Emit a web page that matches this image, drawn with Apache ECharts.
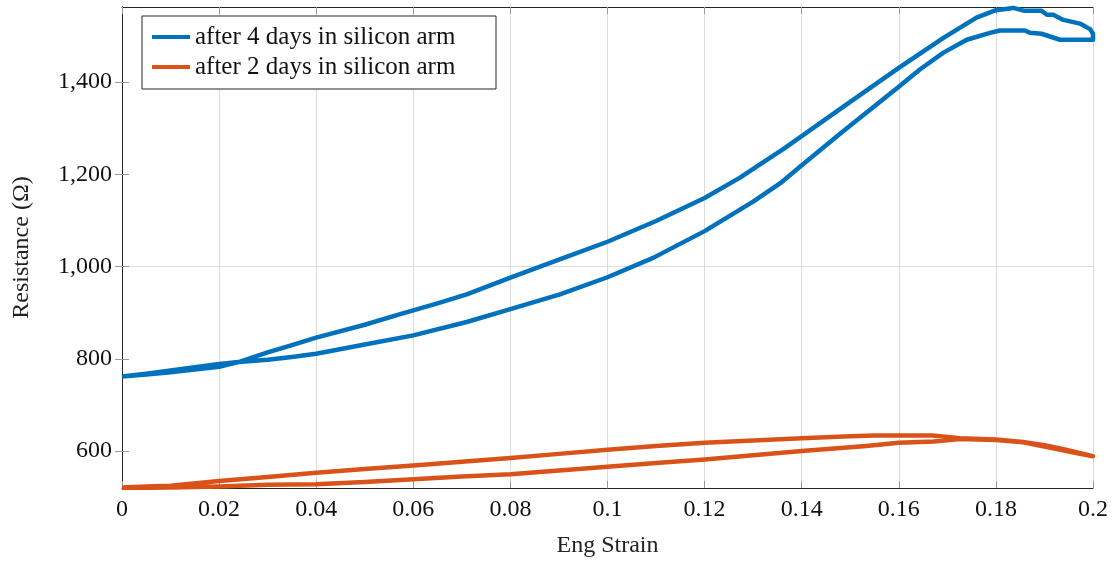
<!DOCTYPE html>
<html>
<head>
<meta charset="utf-8">
<script src="https://cdn.jsdelivr.net/npm/echarts@6/dist/echarts.min.js"></script>
<style>
  html, body { margin: 0; padding: 0; background: #fff; }
  #chart { width: 1119px; height: 563px; }
</style>
</head>
<body>
<div id="chart"></div>
<script>
// after 4 days: loading branch then unloading branch (one closed loop)
const blueStrain = [
  0, 0.005, 0.01, 0.015, 0.02, 0.024, 0.03, 0.035, 0.04, 0.05, 0.0573, 0.06, 0.0655, 0.071, 0.08, 0.09,
  0.1, 0.11, 0.12, 0.1273, 0.1314, 0.1362, 0.14, 0.1486, 0.16, 0.1692, 0.176, 0.18, 0.1836, 0.1857,
  0.1894, 0.1905, 0.1918, 0.1939, 0.1973, 0.1994, 0.2,
  0.2, 0.1932, 0.1894, 0.187, 0.186, 0.1808, 0.1788, 0.174, 0.1692, 0.1644, 0.16, 0.1486, 0.1397,
  0.1356, 0.13, 0.12, 0.1094, 0.1, 0.0902, 0.08, 0.071, 0.06, 0.05, 0.04, 0.035, 0.03, 0.024, 0.02,
  0.015, 0.01, 0.005, 0
]
const blueRes = [
  762, 766, 771, 777, 783, 793, 814, 830, 846, 874, 897, 905, 922, 940, 976, 1015,
  1054, 1099, 1149, 1193, 1222, 1255, 1283, 1347, 1431, 1496, 1540, 1556, 1561, 1555,
  1555, 1546, 1546, 1535, 1527, 1515, 1505,
  1492, 1492, 1505, 1507, 1512, 1512, 1507, 1492, 1464, 1428, 1390, 1294, 1217,
  1181, 1141, 1077, 1019, 977, 940, 908, 880, 851, 831, 811, 804, 798, 793, 789,
  782, 775, 768, 762
]

// after 2 days
const orangeStrain = [
  0, 0.005, 0.01, 0.02, 0.03, 0.04, 0.05, 0.06, 0.07, 0.08, 0.09, 0.1, 0.11, 0.12, 0.13, 0.14,
  0.15, 0.155, 0.16, 0.167, 0.1726, 0.18, 0.1856, 0.19, 0.1935, 0.2,
  0.2, 0.196, 0.19, 0.1856, 0.18, 0.1726, 0.1672, 0.16, 0.1533, 0.14, 0.13, 0.12, 0.11, 0.1,
  0.09, 0.08, 0.07, 0.06, 0.05, 0.04, 0.03, 0.02, 0.01, 0
]
const orangeRes = [
  521, 523, 525, 535, 544, 553, 561, 569, 577, 585, 594, 603, 611, 618, 623, 628,
  632, 634, 634, 634, 628, 625, 620, 613, 605, 589,
  587, 597, 610, 619, 624, 626, 621, 618, 611, 600, 591, 582, 574, 566,
  558, 550, 545, 539, 533, 528, 527, 523, 521, 520
]

const yTicks = [600, 800, 1000, 1200, 1400]
const seriesNames = ['after 4 days in silicon arm', 'after 2 days in silicon arm']
const colors = ['#0072BD', '#D95319']

const font = 'Liberation Serif'
const zip = (xs, ys) => xs.map((x, i) => [x, ys[i]])

const chart = echarts.init(document.getElementById('chart'))

const tickStyle = { show: true, inside: true, length: 7, lineStyle: { color: '#999', width: 1 } }
const lineStyle = { show: true, lineStyle: { color: '#262626', width: 1 } }

chart.setOption({
  animation: false,
  grid: { left: 122, right: 26, top: 7, bottom: 71 },
  legend: {
    left: 142,
    top: 16,
    orient: 'vertical',
    padding: [8, 9, 9, 10],
    itemGap: 4,
    itemWidth: 38,
    itemHeight: 4,
    icon: 'rect',
    backgroundColor: '#fff',
    borderColor: '#262626',
    borderWidth: 1,
    borderRadius: 0,
    textStyle: { fontFamily: font, fontSize: 25, color: '#111', lineHeight: 26, width: 292 },
    data: seriesNames,
  },
  xAxis: [
    {
      type: 'value',
      min: 0,
      max: 0.2,
      interval: 0.02,
      name: 'Eng Strain',
      nameLocation: 'middle',
      nameGap: 46,
      nameTextStyle: { fontFamily: font, fontSize: 24, color: '#222' },
      axisLine: lineStyle,
      axisTick: tickStyle,
      axisLabel: { fontFamily: font, fontSize: 24, color: '#111', margin: 10 },
      splitLine: { show: true, lineStyle: { color: '#dcdcdc', width: 1 } },
    },
    {
      type: 'value',
      position: 'top',
      min: 0,
      max: 0.2,
      interval: 0.02,
      axisLine: lineStyle,
      axisTick: tickStyle,
      axisLabel: { show: false },
      splitLine: { show: false },
    },
  ],
  yAxis: [
    {
      type: 'value',
      min: 520,
      max: 1563,
      interval: 40,
      name: 'Resistance (Ω)',
      nameLocation: 'middle',
      nameGap: 88,
      nameTextStyle: { fontFamily: font, fontSize: 24, color: '#222' },
      axisLine: lineStyle,
      axisTick: { ...tickStyle, customValues: yTicks },
      axisLabel: {
        fontFamily: font,
        fontSize: 24,
        color: '#111',
        margin: 10,
        customValues: yTicks,
        formatter: v => v.toLocaleString('en-US'),
      },
      splitLine: {
        show: true,
        lineStyle: { color: ['rgba(0,0,0,0)', 'rgba(0,0,0,0)', '#dcdcdc', 'rgba(0,0,0,0)', 'rgba(0,0,0,0)'], width: 1 },
      },
    },
    {
      type: 'value',
      position: 'right',
      min: 520,
      max: 1563,
      interval: 40,
      axisLine: lineStyle,
      axisTick: { ...tickStyle, customValues: yTicks },
      axisLabel: { show: false },
      splitLine: { show: false },
    },
  ],
  series: [
    {
      name: seriesNames[0],
      type: 'line',
      data: zip(blueStrain, blueRes),
      showSymbol: false,
      symbol: 'none',
      color: colors[0],
      lineStyle: { width: 4.5, color: colors[0], join: 'round' },
      clip: true,
    },
    {
      name: seriesNames[1],
      type: 'line',
      data: zip(orangeStrain, orangeRes),
      showSymbol: false,
      symbol: 'none',
      color: colors[1],
      lineStyle: { width: 4.5, color: colors[1], join: 'round' },
      clip: true,
    },
  ],
})
</script>
</body>
</html>
